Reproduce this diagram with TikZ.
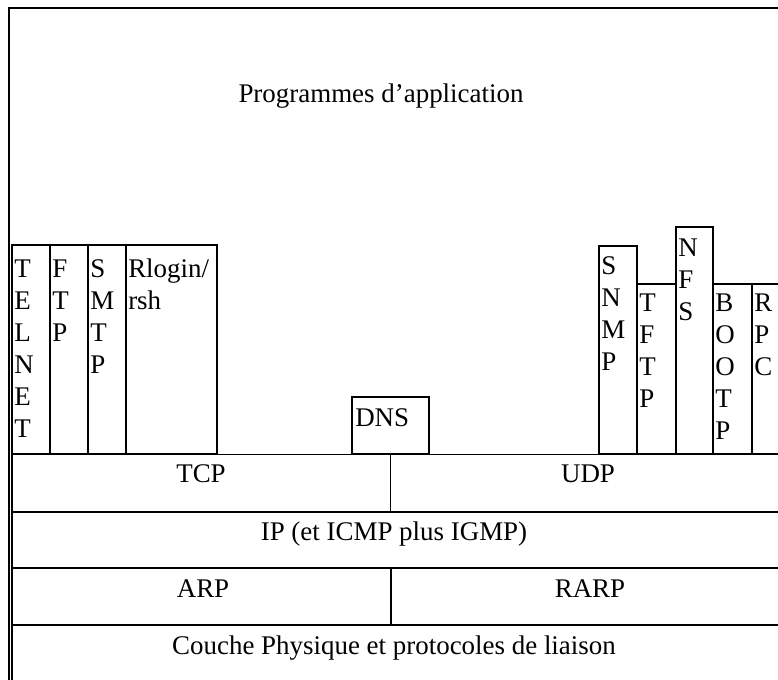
\documentclass[tikz,border=0pt]{standalone}
\usepackage{fontspec}
\setmainfont{Liberation Serif}
\usetikzlibrary{fit}
\newcommand\appstack[1]{\parbox[t]{3cm}{\raggedright #1}}
\begin{document}
\begin{tikzpicture}[x=0.75pt,y=-0.75pt,
  every node/.style={font=\fontsize{20.2}{24}\selectfont},
  lbl/.style={anchor=base, inner sep=0pt},
  stacklbl/.style={anchor=base west, inner sep=0pt},
  frameline/.style={line width=1.5pt},
  ruleline/.style={line width=1.3pt},
  link/.style={line width=0.7pt},
  appbox/.style={draw, line width=1.1pt, inner sep=0pt, outer sep=0pt}]
\useasboundingbox (0,0) rectangle (778,680);
\clip (0,0) rectangle (778,680);
% outer frame
\draw[frameline] (9,700) -- (9,8) -- (800,8);
% application boxes
\node[appbox, fit={(12,245)(50,454)}] (telnet) {};
\node[appbox, fit={(50,245)(88,454)}] (ftp) {};
\node[appbox, fit={(88,245)(126,454)}] (smtp) {};
\node[appbox, fit={(126,245)(217,454)}] (rlogin) {};
\node[appbox, fit={(352,397)(429,454)}] (dns) {};
\node[appbox, fit={(599,246)(637,454)}] (snmp) {};
\node[appbox, fit={(637,284)(676,454)}] (tftp) {};
\node[appbox, fit={(676,227)(713,454)}] (nfs) {};
\node[appbox, fit={(713,284)(752,454)}] (bootp) {};
\node[appbox, fit={(752,284)(800,454)}] (rpc) {};
% connectors between boxes
\draw[link] (rlogin.south east) -- (dns.south west);
\draw[link] (dns.south east) -- (snmp.south west);
% layers
\coordinate (tcpdiv) at (dns.south |- 0,512);
\draw[ruleline] (12,454) -- (12,700);
\draw[ruleline] (dns.south) -- (tcpdiv);
\draw[ruleline] (12,512) -- (800,512);
\draw[ruleline] (12,568) -- (800,568);
\draw[ruleline] (391,568) -- (391,625);
\draw[ruleline] (12,625) -- (800,625);
% texts
\node[lbl] (title) at (381,103) {Programmes d’application};
\node[stacklbl] (telnett) at (14,278) {\appstack{T\\E\\L\\N\\E\\T}};
\node[stacklbl] (ftpt) at (52,278) {\appstack{F\\T\\P}};
\node[stacklbl] (smtpt) at (90,278) {\appstack{S\\M\\T\\P}};
\node[stacklbl] (rlogint) at (128,278) {\appstack{Rlogin/\\rsh}};
\node[stacklbl] (dnst) at (355,427) {DNS};
\node[stacklbl] (snmpt) at (601,275) {\appstack{S\\N\\M\\P}};
\node[stacklbl] (tftpt) at (639,312) {\appstack{T\\F\\T\\P}};
\node[stacklbl] (nfst) at (678,257) {\appstack{N\\F\\S}};
\node[stacklbl] (bootpt) at (715,312) {\appstack{B\\O\\O\\T\\P}};
\node[stacklbl] (rpct) at (754,312) {\appstack{R\\P\\C}};
\node[lbl] (tcp) at (201,483) {TCP};
\node[lbl] (udp) at (588,483) {UDP};
\node[lbl] (ip) at (394,540) {IP (et ICMP plus IGMP)};
\node[lbl] (arp) at (203,597) {ARP};
\node[lbl] (rarp) at (590,597) {RARP};
\node[lbl] (phys) at (394,654) {Couche Physique et protocoles de liaison};
\end{tikzpicture}
\end{document}
